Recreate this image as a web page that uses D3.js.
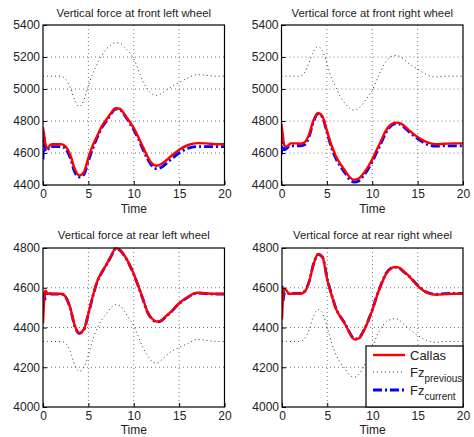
<!DOCTYPE html>
<html><head><meta charset="utf-8">
<script src="https://cdn.jsdelivr.net/npm/d3@7"></script>
<style>body{margin:0;background:#fff}svg{display:block}text{font-family:"Liberation Sans",Arial,sans-serif;fill:#222}</style>
</head><body><svg id="c" width="474" height="437"></svg>
<script>
const time = [0,0.1,0.2,0.3,0.5,0.8,1,1.5,2,2.5,3,3.5,4,4.5,5,5.5,6,6.5,7,7.5,8,8.5,9,9.5,10,10.5,11,11.5,12,12.5,13,13.5,14,15,16,17,18,19,20];

const titles = ["Vertical force at front left wheel","Vertical force at front right wheel","Vertical force at rear left wheel","Vertical force at rear right wheel"];
const seriesNames = ["Callas","Fz_previous","Fz_current"];
const xTicks = [0,5,10,15,20];
const yTicksFront = [4400,4600,4800,5000,5200,5400];
const yTicksRear = [4000,4200,4400,4600,4800];

const flCallas = [4760,4720,4680,4650,4630,4650,4655,4655,4655,4640,4590,4500,4460,4480,4570,4650,4710,4770,4810,4850,4880,4875,4840,4800,4755,4700,4640,4580,4535,4520,4530,4550,4575,4620,4650,4662,4660,4655,4655];
const flPrev = [5080,5080,5080,5080,5080,5080,5080,5080,5080,5060,5010,4930,4890,4930,5020,5100,5160,5210,5250,5275,5290,5285,5260,5230,5190,5120,5050,5000,4970,4960,4970,4990,5010,5040,5070,5090,5085,5080,5080];
const flCurr = [4560,4720,4640,4610,4620,4640,4640,4640,4640,4625,4570,4480,4450,4465,4550,4630,4700,4760,4800,4845,4875,4870,4835,4790,4745,4690,4625,4565,4520,4502,4510,4530,4555,4600,4630,4640,4640,4640,4640];

const frCallas = [4780,4730,4680,4650,4640,4650,4660,4660,4658,4665,4710,4800,4850,4830,4740,4650,4580,4530,4490,4450,4432,4440,4470,4510,4560,4620,4680,4740,4775,4790,4788,4770,4745,4700,4668,4655,4658,4660,4660];
const frPrev = [5080,5080,5080,5080,5080,5080,5080,5080,5080,5100,5160,5230,5265,5240,5160,5070,5010,4950,4910,4880,4868,4880,4910,4950,4990,5060,5120,5170,5200,5210,5205,5185,5160,5125,5090,5075,5080,5080,5080];
const frCurr = [4590,4720,4650,4620,4625,4640,4645,4645,4645,4650,4695,4790,4845,4825,4730,4635,4565,4515,4475,4435,4418,4425,4455,4495,4545,4605,4665,4725,4765,4782,4780,4762,4735,4690,4655,4643,4645,4645,4645];

const rlCallas = [4420,4520,4580,4585,4570,4572,4570,4570,4570,4555,4500,4410,4372,4390,4470,4560,4635,4680,4718,4760,4798,4790,4760,4720,4670,4610,4545,4480,4445,4430,4435,4455,4475,4522,4555,4575,4572,4570,4570];
const rlPrev = [4330,4330,4330,4330,4330,4330,4330,4330,4330,4320,4280,4210,4180,4200,4260,4340,4400,4440,4470,4500,4515,4510,4480,4445,4410,4355,4300,4260,4230,4220,4235,4255,4275,4300,4320,4340,4335,4330,4330];
const rlCurr = [4500,4580,4540,4560,4575,4570,4568,4568,4568,4552,4497,4407,4370,4388,4468,4558,4633,4678,4716,4758,4796,4788,4758,4718,4668,4608,4543,4478,4443,4428,4433,4453,4473,4520,4553,4573,4570,4568,4568];

const rrCallas = [4440,4540,4590,4595,4585,4570,4570,4570,4570,4580,4630,4720,4770,4750,4640,4560,4490,4450,4415,4370,4340,4345,4380,4430,4490,4560,4620,4670,4695,4705,4700,4680,4660,4610,4575,4565,4568,4570,4570];
const rrPrev = [4330,4330,4330,4330,4330,4330,4330,4330,4330,4345,4390,4460,4490,4470,4400,4320,4260,4220,4190,4160,4150,4165,4200,4250,4300,4360,4400,4430,4440,4445,4435,4415,4395,4360,4335,4325,4330,4330,4330];
const rrCurr = [4610,4530,4560,4580,4575,4572,4572,4572,4572,4582,4632,4722,4768,4752,4645,4562,4492,4452,4417,4372,4342,4347,4382,4432,4492,4562,4622,4672,4697,4703,4698,4678,4660,4612,4577,4567,4570,4572,4572];

const panels = [
  {title:titles[0], yd:[4400,5400], yt:yTicksFront, s:[flCallas,flPrev,flCurr], x0:43, x1:224.5, y0:25, y1:185, ty:17, xl:213},
  {title:titles[1], yd:[4400,5400], yt:yTicksFront, s:[frCallas,frPrev,frCurr], x0:281.5, x1:463, y0:25, y1:185, ty:17, xl:213},
  {title:titles[2], yd:[4000,4800], yt:yTicksRear, s:[rlCallas,rlPrev,rlCurr], x0:43, x1:224.5, y0:248, y1:407, ty:239, xl:434},
  {title:titles[3], yd:[4000,4800], yt:yTicksRear, s:[rrCallas,rrPrev,rrCurr], x0:282, x1:463, y0:248, y1:407, ty:239, xl:434}
];

const styles = [
  {stroke:"#ff0000", w:2.4, dash:null},
  {stroke:"#333", w:1, dash:"1,3"},
  {stroke:"#0000ff", w:2.8, dash:"9,3,2,3"}
];
const drawOrder = [1,2,0];

const svg = d3.select("#c");
panels.forEach(p => {
  const x = d3.scaleLinear().domain([0,20]).range([p.x0,p.x1]);
  const y = d3.scaleLinear().domain(p.yd).range([p.y1,p.y0]);
  const g = svg.append("g");
  g.append("rect").attr("x",p.x0).attr("y",p.y0).attr("width",p.x1-p.x0).attr("height",p.y1-p.y0).attr("fill","#fff");
  const gg = g.append("g").attr("stroke","#555").attr("stroke-width",0.8).attr("stroke-dasharray","1,3");
  xTicks.slice(1,-1).forEach(t => gg.append("line").attr("x1",x(t)).attr("x2",x(t)).attr("y1",p.y0).attr("y2",p.y1));
  p.yt.slice(1,-1).forEach(t => gg.append("line").attr("y1",y(t)).attr("y2",y(t)).attr("x1",p.x0).attr("x2",p.x1));
  const clipId = "clip"+Math.round(p.x0)+"_"+p.y0;
  svg.append("clipPath").attr("id",clipId).append("rect").attr("x",p.x0).attr("y",p.y0-2).attr("width",p.x1-p.x0).attr("height",p.y1-p.y0+4);
  const line = d3.line().x((d,i)=>x(time[i])).y(d=>y(d)).curve(d3.curveMonotoneX);
  drawOrder.forEach(k => {
    const st = styles[k];
    g.append("path").attr("clip-path",`url(#${clipId})`).attr("d",line(p.s[k])).attr("fill","none")
      .attr("stroke",st.stroke).attr("stroke-width",st.w).attr("stroke-dasharray",st.dash)
      .attr("stroke-linejoin","round");
  });
  const ax = g.append("g").attr("transform",`translate(0,${p.y1})`).call(d3.axisBottom(x).tickValues(xTicks).tickSize(-4).tickPadding(4).tickFormat(d3.format("d")));
  const ay = g.append("g").attr("transform",`translate(${p.x0},0)`).call(d3.axisLeft(y).tickValues(p.yt).tickSize(-4).tickPadding(3).tickFormat(d3.format("d")));
  [ax,ay].forEach(a => {
    a.select(".domain").remove();
    a.selectAll("line").attr("stroke","#000");
    a.selectAll("text").attr("font-size",12).attr("fill","#222").style("font-family","Liberation Sans, Arial");
  });
  g.append("rect").attr("x",p.x0).attr("y",p.y0).attr("width",p.x1-p.x0).attr("height",p.y1-p.y0)
    .attr("fill","none").attr("stroke","#000").attr("stroke-width",1.2);
  g.append("text").attr("x",(p.x0+p.x1)/2).attr("y",p.ty).attr("text-anchor","middle").attr("font-size",11.3).text(p.title);
  g.append("text").attr("x",(p.x0+p.x1)/2).attr("y",p.xl).attr("text-anchor","middle").attr("font-size",12).text("Time");
});

const lg = svg.append("g");
lg.append("rect").attr("x",366).attr("y",346).attr("width",97).attr("height",61).attr("fill","#fff").attr("stroke","#000").attr("stroke-width",1.2);
const ly = [355,372,390];
seriesNames.forEach((n,i) => {
  const st = styles[i];
  lg.append("line").attr("x1",373).attr("x2",405).attr("y1",ly[i]).attr("y2",ly[i])
    .attr("stroke",st.stroke).attr("stroke-width",st.w).attr("stroke-dasharray",st.dash);
  const parts = n.split("_");
  const t = lg.append("text").attr("x",410).attr("y",ly[i]+5).attr("font-size",13);
  t.append("tspan").text(parts[0]);
  if (parts[1]) t.append("tspan").attr("dy",5).attr("font-size",10).text(parts[1]);
});
</script></body></html>
